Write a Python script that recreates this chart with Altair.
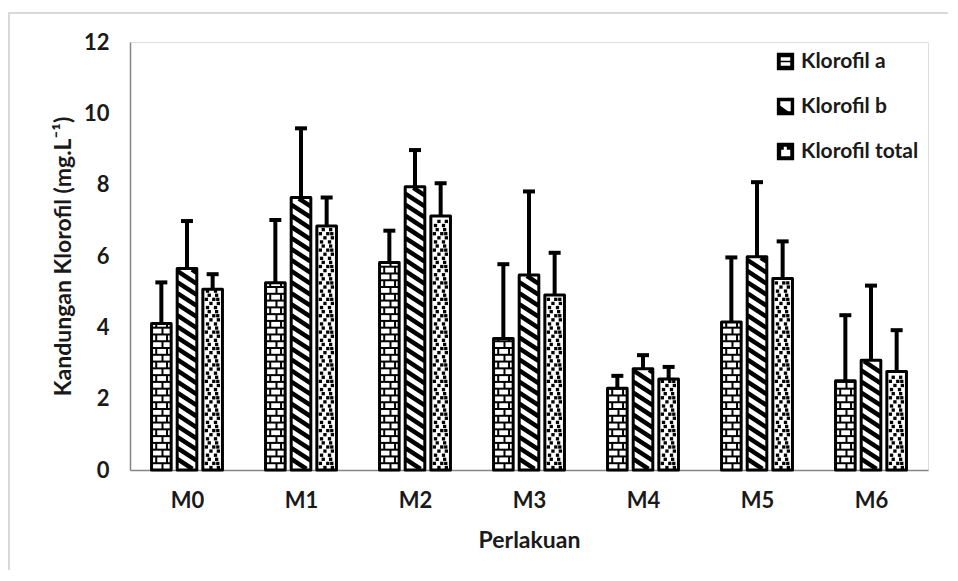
import altair as alt
import pandas as pd

categories = ["M0", "M1", "M2", "M3", "M4", "M5", "M6"]
series = ["Klorofil a", "Klorofil b", "Klorofil total"]
klorofil_a = [4.11, 5.25, 5.82, 3.69, 2.29, 4.15, 2.50]
klorofil_a_err = [1.15, 1.76, 0.89, 2.08, 0.35, 1.81, 1.84]
klorofil_b = [5.65, 7.64, 7.94, 5.47, 2.84, 5.98, 3.08]
klorofil_b_err = [1.33, 1.94, 1.03, 2.34, 0.38, 2.09, 2.09]
klorofil_total = [5.07, 6.84, 7.12, 4.91, 2.55, 5.37, 2.76]
klorofil_total_err = [0.42, 0.80, 0.92, 1.18, 0.34, 1.04, 1.16]
y_ticks = [0, 2, 4, 6, 8, 10, 12]

rows = []
for j, (s, vals, errs) in enumerate(zip(series,
                                        [klorofil_a, klorofil_b, klorofil_total],
                                        [klorofil_a_err, klorofil_b_err, klorofil_total_err])):
    for i, (c, v, e) in enumerate(zip(categories, vals, errs)):
        rows.append({"cat": c, "ci": i, "series": s, "si": j, "mean": v, "err": e})
df = pd.DataFrame(rows)

FONT = "Lato"
TXT = "#1a1a1a"
label_expr = "[" + ",".join(f"'{c}'" for c in categories) + "][datum.value]"

xs = alt.Scale(domain=[-0.5, len(categories) - 0.5], nice=False, zero=False)
ys = alt.Scale(domain=[0, 12], nice=False)
xaxis = alt.Axis(values=list(range(len(categories))), labelExpr=label_expr, ticks=False, grid=False,
                 domainColor="#868686", domainWidth=1.5, labelFont=FONT, labelFontWeight="bold",
                 labelFontSize=22, labelColor=TXT, labelPadding=20, title="Perlakuan",
                 titleFont=FONT, titleFontWeight="bold", titleFontSize=23, titleColor=TXT,
                 titlePadding=18)
yaxis = alt.Axis(values=y_ticks, ticks=False, grid=False, domainColor="#868686", domainWidth=1.5,
                 labelFont=FONT, labelFontWeight="bold", labelFontSize=22, labelColor=TXT,
                 labelPadding=21, title="Kandungan Klorofil (mg.L⁻¹)", titleFont=FONT,
                 titleFontWeight="bold", titleFontSize=23, titleColor=TXT, titlePadding=8)

HW = 0.086
base = alt.Chart(df).transform_calculate(
    xc="datum.ci + (datum.si - 1) * 0.225",
).transform_calculate(
    xl=f"datum.xc - {HW}",
    xr=f"datum.xc + {HW}",
    top="datum.mean + datum.err",
    cl="datum.xc - 0.0525",
    cr="datum.xc + 0.0525",
)


def X(f):
    return alt.X(f, type="quantitative", scale=xs, axis=xaxis)


def Y(f):
    return alt.Y(f, type="quantitative", scale=ys, axis=yaxis)


# frame around the chart
frame = alt.Chart(alt.Data(values=[{"k": 1}])).mark_rect(
    fill="white", fillOpacity=0, stroke="#d9d9d9", strokeWidth=2
).encode(x=alt.value(-121), x2=alt.value(2000), y=alt.value(-29), y2=alt.value(2000))

white_bars = base.mark_rect(fill="white", stroke=None).encode(
    x=X("xl"), x2="xr", y=Y("mean"), y2=alt.datum(0))

# bricks (Klorofil a)
BS = 0.19
bricks = base.transform_filter("datum.si == 0").transform_calculate(
    rowsq=f"sequence(0, datum.mean, {BS})"
).transform_flatten(["rowsq"], as_=["ry"])
brick_h = bricks.mark_rule(color="black", strokeWidth=2).encode(
    x=X("xl"), x2="xr", y=Y("ry"))
brick_v = bricks.transform_calculate(
    k=f"round(datum.ry / {BS})",
    ytop=f"min(datum.ry + {BS}, datum.mean)",
).transform_calculate(
    offs="datum.k % 2 == 0 ? [0.01] : [-0.045, 0.05]"
).transform_flatten(["offs"], as_=["vx"]).transform_calculate(
    vxx="datum.xc + datum.vx"
).mark_rule(color="black", strokeWidth=2).encode(
    x=X("vxx"), y=Y("ry"), y2="ytop")

# diagonal stripes (Klorofil b)
P = 0.31
D = 0.36
stripes = base.transform_filter("datum.si == 1").transform_calculate(
    sq=f"sequence(0, datum.mean + {D}, {P})"
).transform_flatten(["sq"], as_=["ys0"]).transform_calculate(
    t0=f"max(0, (datum.ys0 - (datum.mean - 0.03)) / {D})",
    t1=f"min(1, (datum.ys0 - 0.03) / {D})",
).transform_filter("datum.t1 > datum.t0").transform_calculate(
    sx1="datum.xl + datum.t0 * (datum.xr - datum.xl)",
    sy1=f"datum.ys0 - datum.t0 * {D}",
    sx2="datum.xl + datum.t1 * (datum.xr - datum.xl)",
    sy2=f"datum.ys0 - datum.t1 * {D}",
).mark_rule(color="black", strokeWidth=4.5, strokeCap="butt").encode(
    x=X("sx1"), y=Y("sy1"), x2="sx2", y2="sy2")

# confetti dots (Klorofil total)
DS = 0.115
dots = base.transform_filter("datum.si == 2").transform_calculate(
    dq=f"sequence(0.07, datum.mean - 0.05, {DS})"
).transform_flatten(["dq"], as_=["dy"]).transform_calculate(
    k=f"round(datum.dy / {DS})"
).transform_calculate(
    offs="datum.k % 4 == 0 ? [-0.045, 0.025] : datum.k % 4 == 1 ? [-0.015, 0.05] : "
         "datum.k % 4 == 2 ? [-0.055, 0.01, 0.045] : [-0.03, 0.035]"
).transform_flatten(["offs"], as_=["dx"]).transform_calculate(
    dxx="datum.xc + datum.dx"
).mark_square(size=11, color="black", opacity=1, filled=True).encode(
    x=X("dxx"), y=Y("dy"))

outline = base.mark_rect(fill="white", fillOpacity=0, stroke="black", strokeWidth=3,
                         strokeJoin="round").encode(
    x=X("xl"), x2="xr", y=Y("mean"), y2=alt.datum(0))

err_line = base.mark_rule(color="black", strokeWidth=4).encode(
    x=X("xc"), y=Y("mean"), y2="top")
err_cap = base.mark_rule(color="black", strokeWidth=4).encode(
    x=X("cl"), x2="cr", y=Y("top"))

shape_a = "M-1,-1H1V1H-1Z M-0.55,-0.5V-0.1H0.55V-0.5Z M-0.55,0.1V0.5H0.55V0.1Z"
shape_b = "M-1,-1H1V1H-1Z M-0.6,-0.6L-0.6,-0.1L0.3,0.55L0.6,0.55L0.6,-0.6Z"
shape_t = "M-1,-1H1V1H-1Z M-0.5,-0.2L-0.5,0.55L0.55,0.55L0.55,-0.2L0.15,-0.2L0.15,-0.55L-0.2,-0.55L-0.2,-0.2Z"

legend_pts = base.mark_point(filled=True, opacity=0, color="black").encode(
    x=X("xc"), y=Y("mean"),
    shape=alt.Shape("series:N", scale=alt.Scale(domain=series, range=[shape_a, shape_b, shape_t]),
                    legend=alt.Legend(title=None, orient="none", legendX=645, legendY=9,
                                      symbolFillColor="black", symbolStrokeColor="black",
                                      symbolStrokeWidth=0, symbolOpacity=1, symbolSize=300,
                                      labelFont=FONT, labelFontWeight="bold", labelFontSize=21,
                                      labelColor=TXT, labelOffset=5, rowPadding=23)),
)

chart = alt.layer(
    frame, white_bars, brick_h, brick_v, stripes, dots, outline, err_line, err_cap, legend_pts
).properties(
    width=798, height=428,
    autosize=alt.AutoSizeParams(type="none"),
    padding={"left": 122, "top": 34, "right": 20, "bottom": 100},
).configure_view(stroke=None).configure(background="white")

chart.save("out.html", embed_options={"renderer": "svg", "actions": False})
